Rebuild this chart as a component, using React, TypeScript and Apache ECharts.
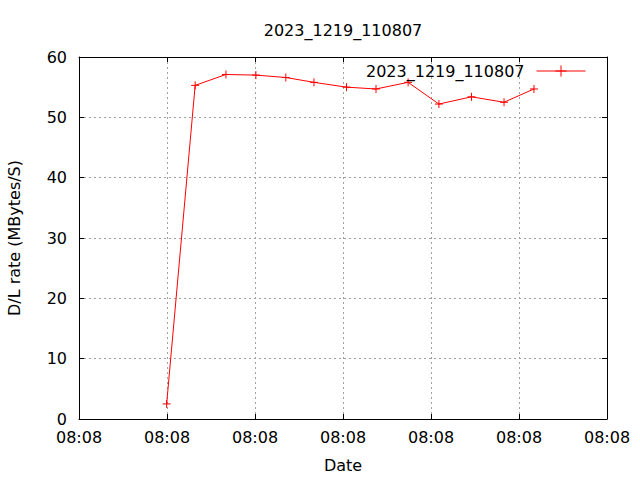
import React, { useEffect, useRef } from "react";
import * as echarts from "echarts";

const titleText = "2023_1219_110807";
const seriesName = "2023_1219_110807";
// seconds after 08:08:00
const timeSeconds = [9.96, 13.2, 16.7, 20.1, 23.5, 26.7, 30.4, 33.75, 37.4, 40.9, 44.6, 48.3, 51.7];
const rateValues = [2.5, 55.3, 57.1, 57.0, 56.6, 55.8, 55.0, 54.7, 55.8, 52.2, 53.4, 52.5, 54.7];
const xTickLabel = "08:08";
const yAxisName = "D/L rate (MBytes/S)";
const xAxisName = "Date";

const FONT = "DejaVu Sans";

export default function App() {
  const ref = useRef<HTMLDivElement>(null);
  useEffect(() => {
    if (!ref.current) return;
    const chart = echarts.init(ref.current, null, { renderer: "svg" });
    const data = timeSeconds.map((t, i) => [t, rateValues[i]]);
    const grid = { left: 79, right: 33, top: 57, bottom: 61, containLabel: false, outerBoundsMode: "none" };
    const gridLine = { show: true, lineStyle: { color: "#a0a0a0", type: [2, 3] as any, width: 1 } };
    chart.setOption({
      animation: false,
      backgroundColor: "#ffffff",
      title: {
        text: titleText,
        left: 338,
        top: 17,
        textAlign: "center",
        textStyle: { fontFamily: FONT, fontSize: 16, fontWeight: "normal", color: "#000" },
      },
      legend: {
        right: 49,
        top: 58,
        align: "right",
        itemWidth: 49,
        itemHeight: 14,
        lineStyle: { width: 1 },
        itemStyle: { borderWidth: 1 },
        data: [{ name: seriesName }],
        textStyle: { fontFamily: FONT, fontSize: 16, color: "#000", padding: [0, 7, 0, 0] },
      },
      grid,
      xAxis: [
        {
          type: "value",
          min: 0,
          max: 60,
          interval: 10,
          name: xAxisName,
          nameLocation: "middle",
          nameGap: 38,
          nameTextStyle: { fontFamily: FONT, fontSize: 16, color: "#000" },
          axisLine: { show: true, onZero: false, lineStyle: { color: "#000", width: 1 } },
          axisTick: { show: true, inside: true, length: 5, lineStyle: { color: "#000" } },
          axisLabel: {
            fontFamily: FONT,
            fontSize: 16,
            color: "#000",
            margin: 10,
            formatter: () => xTickLabel,
          },
          splitLine: gridLine,
        },
        {
          type: "value",
          position: "top",
          min: 0,
          max: 60,
          interval: 10,
          axisLine: { show: true, onZero: false, lineStyle: { color: "#000", width: 1 } },
          axisTick: { show: true, inside: true, length: 5, lineStyle: { color: "#000" } },
          axisLabel: { show: false },
          splitLine: { show: false },
        },
      ],
      yAxis: [
        {
          type: "value",
          min: 0,
          max: 60,
          interval: 10,
          name: yAxisName,
          nameLocation: "middle",
          nameGap: 57,
          nameTextStyle: { fontFamily: FONT, fontSize: 16, color: "#000" },
          axisLine: { show: true, onZero: false, lineStyle: { color: "#000", width: 1 } },
          axisTick: { show: true, inside: true, length: 5, lineStyle: { color: "#000" } },
          axisLabel: { fontFamily: FONT, fontSize: 16, color: "#000", margin: 12 },
          splitLine: gridLine,
        },
        {
          type: "value",
          position: "right",
          min: 0,
          max: 60,
          interval: 10,
          axisLine: { show: true, onZero: false, lineStyle: { color: "#000", width: 1 } },
          axisTick: { show: true, inside: true, length: 5, lineStyle: { color: "#000" } },
          axisLabel: { show: false },
          splitLine: { show: false },
        },
      ],
      series: [
        {
          name: seriesName,
          type: "line",
          xAxisIndex: 0,
          yAxisIndex: 0,
          data,
          symbol: "path://M5,0L5,10M0,5L10,5",
          symbolSize: 8,
          showAllSymbol: true,
          lineStyle: { color: "#ff0000", width: 1 },
          itemStyle: { color: "#ff0000", borderColor: "#ff0000", borderWidth: 1 },
        },
      ],
    });
    return () => chart.dispose();
  }, []);
  return <div ref={ref} style={{ width: 640, height: 480, position: "absolute", left: 0, top: 0 }} />;
}
